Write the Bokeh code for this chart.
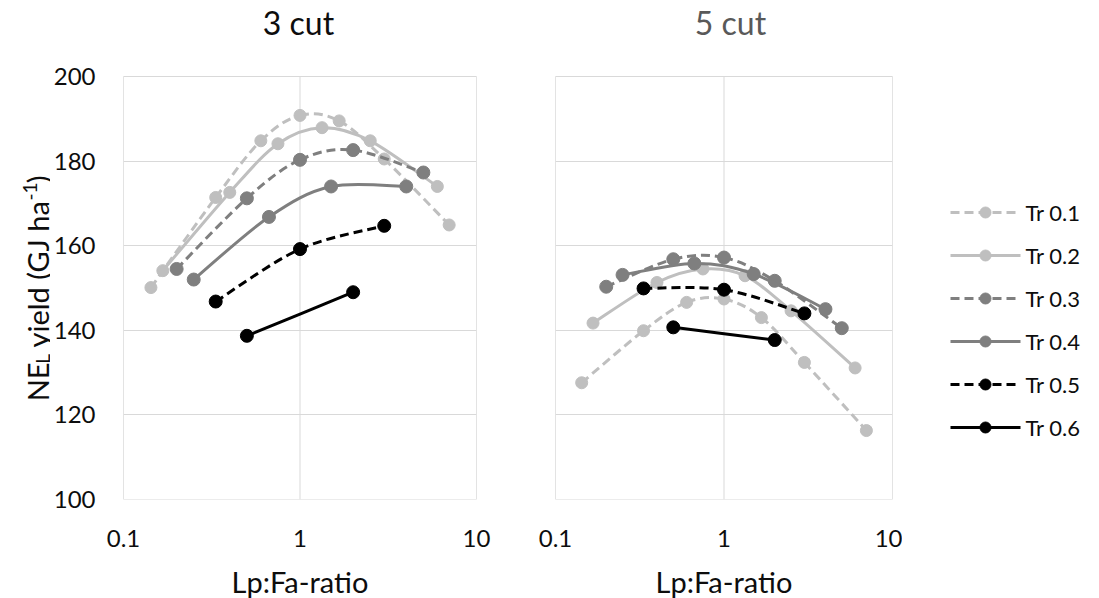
import math
from bokeh.plotting import figure
from bokeh.models import Range1d, FixedTicker, Label, ColumnDataSource
from bokeh.core.properties import value
from bokeh.layouts import row
from bokeh.embed import file_html
from bokeh.resources import INLINE

# ---------------- data ----------------
series_names = ["Tr 0.1", "Tr 0.2", "Tr 0.3", "Tr 0.4", "Tr 0.5", "Tr 0.6"]

# Lp:Fa ratio of each point
ratio_tr01 = [0.143, 0.333, 0.6, 1.0, 1.667, 3.0, 7.0]
ratio_tr02 = [0.167, 0.4, 0.75, 1.333, 2.5, 6.0]
ratio_tr03 = [0.2, 0.5, 1.0, 2.0, 5.0]
ratio_tr04 = [0.25, 0.667, 1.5, 4.0]
ratio_tr05 = [0.333, 1.0, 3.0]
ratio_tr06 = [0.5, 2.0]

# NEL yield, 3 cut (GJ/ha)
cut3_tr01 = [150.1, 171.4, 184.8, 190.8, 189.5, 180.5, 164.9]
cut3_tr02 = [154.1, 172.6, 184.1, 187.9, 184.8, 174.0]
cut3_tr03 = [154.5, 171.2, 180.3, 182.6, 177.3]
cut3_tr04 = [152.0, 166.8, 174.0, 174.0]
cut3_tr05 = [146.8, 159.2, 164.7]
cut3_tr06 = [138.7, 149.0]

# NEL yield, 5 cut (GJ/ha)
cut5_tr01 = [127.6, 139.9, 146.6, 147.4, 143.0, 132.4, 116.3]
cut5_tr02 = [141.7, 151.3, 154.5, 152.9, 144.6, 131.1]
cut5_tr03 = [150.3, 156.8, 157.2, 151.7, 140.5]
cut5_tr04 = [153.1, 155.8, 153.3, 145.0]
cut5_tr05 = [149.9, 149.6, 144.0]
cut5_tr06 = [140.7, 137.7]

y_ticks = [100, 120, 140, 160, 180, 200]
x_ticks = [0.1, 1, 10]
x_tick_labels = ["0.1", "1", "10"]
panel_titles = ["3 cut", "5 cut"]
x_label = "Lp:Fa-ratio"

ratios = [ratio_tr01, ratio_tr02, ratio_tr03, ratio_tr04, ratio_tr05, ratio_tr06]
cut3 = [cut3_tr01, cut3_tr02, cut3_tr03, cut3_tr04, cut3_tr05, cut3_tr06]
cut5 = [cut5_tr01, cut5_tr02, cut5_tr03, cut5_tr04, cut5_tr05, cut5_tr06]

# ---------------- styles / geometry ----------------
colors = ["#bfbfbf", "#bfbfbf", "#7f7f7f", "#7f7f7f", "#000000", "#000000"]
dashes = ["9 5", "solid", "9 5", "solid", "9 5", "solid"]
msizes = [12, 12, 13, 13, 13, 13]
FONT = "Lato"
TXT = "#0d0d0d"
GRID = "#d9d9d9"
TOP = 76            # pixels above the y=200 line (title zone, inside the frame)
PLOT_H = 423        # pixels between y=100 and y=200
BOTTOM = 97
FIG_H = TOP + PLOT_H + BOTTOM
W0 = 50             # strip holding the y-axis title
W_LEG = 190
y_top = y_ticks[-1] + TOP * (y_ticks[-1] - y_ticks[0]) / PLOT_H


def smooth_segments(xs, ys):
    """Bezier control points (Catmull-Rom style, like spreadsheet smoothed lines)
    computed in log-x / linear-y space."""
    lx = [math.log10(v) for v in xs]
    n = len(xs)
    d = dict(x0=[], y0=[], x1=[], y1=[], cx0=[], cy0=[], cx1=[], cy1=[])
    for i in range(n - 1):
        a = max(i - 1, 0)
        b = min(i + 2, n - 1)
        c0x = lx[i] + (lx[i + 1] - lx[a]) / 6.0
        c0y = ys[i] + (ys[i + 1] - ys[a]) / 6.0
        c1x = lx[i + 1] - (lx[b] - lx[i]) / 6.0
        c1y = ys[i + 1] - (ys[b] - ys[i]) / 6.0
        d["x0"].append(xs[i]); d["y0"].append(ys[i])
        d["x1"].append(xs[i + 1]); d["y1"].append(ys[i + 1])
        d["cx0"].append(10 ** c0x); d["cy0"].append(c0y)
        d["cx1"].append(10 ** c1x); d["cy1"].append(c1y)
    return d


def blank_fig(w, h):
    p = figure(frame_width=w, frame_height=h, x_range=Range1d(0, w), y_range=Range1d(0, h),
               output_backend="svg", toolbar_location=None, title=None,
               x_axis_location=None, y_axis_location=None,
               min_border=0, min_border_left=0, min_border_right=0,
               min_border_top=0, min_border_bottom=0)
    p.grid.visible = False
    p.outline_line_color = None
    p.background_fill_color = "white"
    p.border_fill_color = "white"
    return p


def make_fig(frame_w, mbl, mbr, title):
    p = figure(frame_width=frame_w, frame_height=TOP + PLOT_H, title=None,
               x_axis_type="log", x_range=Range1d(x_ticks[0], x_ticks[-1]),
               y_range=Range1d(y_ticks[0], y_top),
               output_backend="svg", toolbar_location=None,
               min_border_left=mbl, min_border_right=mbr,
               min_border_top=0, min_border_bottom=BOTTOM)
    p.background_fill_color = "white"
    p.border_fill_color = "white"
    p.outline_line_color = None
    xt = FixedTicker(ticks=x_ticks, minor_ticks=[])
    yt = FixedTicker(ticks=y_ticks, minor_ticks=[])
    p.xaxis.ticker = xt
    p.yaxis.ticker = yt
    p.ygrid.ticker = yt
    p.ygrid.grid_line_color = GRID
    p.ygrid.grid_line_width = 1
    p.xgrid.visible = False
    # vertical grid lines and plot-area border, limited to the 100-200 band
    p.segment(x0=x_ticks, y0=[y_ticks[0]] * len(x_ticks), x1=x_ticks,
              y1=[y_ticks[-1]] * len(x_ticks), line_color=GRID, line_width=1)
    p.quad(left=x_ticks[0], right=x_ticks[-1], bottom=y_ticks[0], top=y_ticks[-1],
           fill_color=None, line_color=GRID, line_width=1)
    p.xaxis.major_label_overrides = {v: s for v, s in zip(x_ticks, x_tick_labels)}
    for ax in (p.xaxis, p.yaxis):
        ax.axis_line_color = None
        ax.major_tick_line_color = None
        ax.minor_tick_line_color = None
        ax.major_tick_out = 0
        ax.major_tick_in = 0
        ax.minor_tick_out = 0
        ax.major_label_text_font = FONT
        ax.major_label_text_font_size = "24px"
        ax.major_label_text_color = TXT
    p.xaxis.major_label_standoff = 30
    p.yaxis.major_label_standoff = 28
    p.xaxis.axis_label = x_label
    p.xaxis.axis_label_text_font = FONT
    p.xaxis.axis_label_text_font_size = "29px"
    p.xaxis.axis_label_text_font_style = "normal"
    p.xaxis.axis_label_text_color = TXT
    p.xaxis.axis_label_standoff = 14
    tcolor = TXT if title == panel_titles[0] else "#595959"
    p.add_layout(Label(x=175, y=PLOT_H + TOP - 22, x_units="screen", y_units="screen",
                       text=title, text_font=FONT, text_font_size="32px",
                       text_color=tcolor, text_align="center", text_baseline="middle"))
    return p


def draw_series(p, data):
    for xs, ys, c, dsh, ms in zip(ratios, data, colors, dashes, msizes):
        src = ColumnDataSource(smooth_segments(xs, ys))
        p.bezier(x0="x0", y0="y0", x1="x1", y1="y1", cx0="cx0", cy0="cy0",
                 cx1="cx1", cy1="cy1", source=src,
                 line_color=c, line_width=3, line_dash=dsh)
        p.scatter(xs, ys, marker="circle", size=ms, fill_color=c, line_color=c)


# ---- panels ----
p1 = make_fig(353, 123 - W0, 20, panel_titles[0])   # 3 cut
p2 = make_fig(337, 59, 10, panel_titles[1])          # 5 cut
p2.yaxis.visible = False
draw_series(p1, cut3)
draw_series(p2, cut5)

# ---- y-axis title strip (subscript / superscript pieces, rotated) ----
p0 = blank_fig(W0, FIG_H)
main_fs, small_fs = 29, 19
pieces = [("NE", main_fs, 0, 1.30),
          ("L", small_fs, 5, 0.50),
          ("\u00a0yield (GJ ha", main_fs, 0, 5.30),
          ("-1", small_fs, -8, 0.90),
          (")", main_fs, 0, 0.30)]
total = sum(fs * w for _, fs, _, w in pieces)
center_y = FIG_H - (TOP + PLOT_H / 2)      # data y of the plot-area middle
pos = center_y - total / 2
base_x = 37
for txt, fs, shift, w in pieces:
    p0.add_layout(Label(x=base_x + shift, y=pos, text=txt, angle=math.pi / 2,
                        text_font=FONT, text_font_size=f"{fs}px", text_color=TXT,
                        text_align="left", text_baseline="alphabetic"))
    pos += fs * w

# ---- legend strip (drawn in pixel coordinates of its own frame) ----
pleg = blank_fig(W_LEG, FIG_H)
LEG_X0, LEG_X1, LEG_TXT = 48, 118, 123
LEG_FIRST, LEG_STEP = 212, 43
for i, (name, c, dsh) in enumerate(zip(series_names, colors, dashes)):
    yy = FIG_H - (LEG_FIRST + LEG_STEP * i)
    pleg.segment(x0=[LEG_X0], y0=[yy], x1=[LEG_X1], y1=[yy],
                 line_color=c, line_width=3, line_dash=dsh)
    pleg.scatter(x=[(LEG_X0 + LEG_X1) / 2], y=[yy], marker="circle", size=11,
                 fill_color=c, line_color=c)
    pleg.text(x=[LEG_TXT], y=[yy], text=[name], text_font=value(FONT),
              text_font_size=value("22px"), text_color=TXT,
              text_align="left", text_baseline="middle")

layout = row(p0, p1, p2, pleg)
open("out.html", "w").write(file_html(layout, INLINE, title="NEL yield"))
